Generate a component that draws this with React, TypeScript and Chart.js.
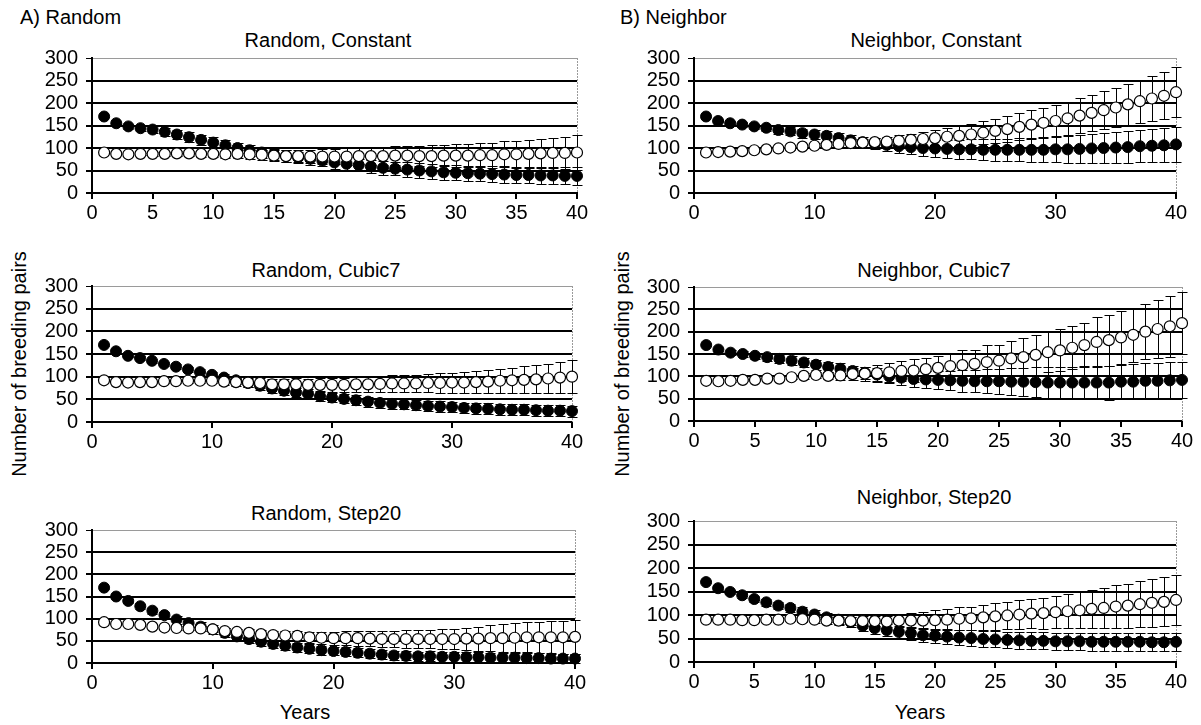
import React, { useEffect, useRef } from 'react';
import { Chart, registerables } from 'chart.js';

Chart.register(...registerables);

const FONT = '"Liberation Sans", Arial, Helvetica, sans-serif';
const FONT_SIZE = 20;

// ---------- data ----------
const YEARS = [1, 2, 3, 4, 5, 6, 7, 8, 9, 10, 11, 12, 13, 14, 15, 16, 17, 18, 19, 20,
  21, 22, 23, 24, 25, 26, 27, 28, 29, 30, 31, 32, 33, 34, 35, 36, 37, 38, 39, 40];
const Y_TICKS = [0, 50, 100, 150, 200, 250, 300];
const X_TICKS_5 = [0, 5, 10, 15, 20, 25, 30, 35, 40];
const X_TICKS_10 = [0, 10, 20, 30, 40];

// Random, Constant
const RAND_CONST_FILLED = [170, 155, 148, 144, 141, 136, 130, 124, 118, 112, 106, 100, 95, 90, 86, 82, 79, 76, 72, 68,
  65, 62, 59, 56, 54, 52, 50, 48, 46, 45, 44, 43, 42, 41, 40, 40, 39, 39, 38, 38];
const RAND_CONST_FILLED_SD = [2, 3, 5, 6, 7, 9, 10, 11, 11, 12, 12, 12, 12, 12, 12, 13, 13, 13, 13, 14,
  14, 14, 15, 15, 15, 16, 16, 16, 16, 17, 17, 17, 17, 18, 18, 18, 19, 19, 19, 20];
const RAND_CONST_OPEN = [90, 87, 86, 87, 87, 87, 88, 88, 87, 87, 86, 87, 86, 85, 83, 82, 82, 81, 81, 81,
  81, 82, 82, 82, 83, 83, 82, 82, 83, 83, 83, 84, 84, 86, 86, 87, 88, 89, 89, 90];
const RAND_CONST_OPEN_SD = [2, 2, 3, 3, 4, 4, 5, 5, 6, 7, 8, 9, 10, 11, 12, 13, 14, 15, 16, 17,
  18, 18, 19, 20, 21, 22, 23, 24, 24, 25, 26, 27, 28, 29, 30, 31, 33, 34, 36, 38];

// Neighbor, Constant
const NEIGH_CONST_FILLED = [170, 160, 155, 152, 148, 145, 140, 137, 133, 130, 127, 122, 117, 113, 110, 107, 104, 102, 100, 99,
  98, 97, 97, 96, 96, 96, 96, 96, 96, 97, 97, 98, 99, 100, 101, 102, 104, 105, 106, 108];
const NEIGH_CONST_FILLED_SD = [2, 3, 4, 5, 6, 7, 8, 9, 10, 10, 11, 11, 12, 12, 13, 14, 15, 16, 18, 19,
  20, 21, 22, 23, 24, 25, 26, 27, 28, 29, 30, 31, 32, 33, 34, 35, 36, 37, 38, 39];
const NEIGH_CONST_OPEN = [90, 91, 92, 93, 95, 97, 99, 101, 103, 105, 107, 109, 111, 112, 113, 114, 116, 118, 120, 122,
  125, 127, 130, 134, 138, 142, 147, 152, 156, 160, 166, 172, 178, 184, 190, 197, 204, 210, 216, 224];
const NEIGH_CONST_OPEN_SD = [2, 2, 3, 3, 4, 4, 5, 5, 6, 6, 7, 8, 9, 9, 10, 11, 12, 14, 16, 18,
  20, 22, 24, 26, 27, 29, 30, 32, 33, 35, 37, 39, 40, 42, 44, 46, 48, 50, 52, 56];

// Random, Cubic7
const RAND_CUBIC_FILLED = [170, 156, 146, 141, 135, 128, 122, 116, 110, 104, 98, 92, 86, 80, 74, 69, 65, 62, 57, 54,
  51, 48, 45, 42, 40, 39, 37, 35, 34, 33, 31, 30, 29, 28, 27, 27, 26, 25, 25, 24];
const RAND_CUBIC_FILLED_SD = [2, 3, 3, 4, 4, 5, 5, 6, 6, 7, 7, 8, 8, 9, 9, 9, 10, 10, 10, 10,
  10, 11, 11, 11, 11, 11, 11, 11, 12, 12, 12, 12, 12, 12, 12, 12, 12, 12, 12, 12];
const RAND_CUBIC_OPEN = [92, 88, 87, 88, 88, 90, 90, 91, 91, 91, 89, 88, 87, 86, 83, 83, 83, 82, 82, 82,
  82, 83, 83, 84, 85, 85, 85, 86, 86, 87, 87, 88, 89, 91, 92, 93, 94, 96, 98, 100];
const RAND_CUBIC_OPEN_SD = [2, 2, 2, 3, 3, 3, 4, 4, 5, 6, 7, 8, 9, 10, 11, 12, 13, 13, 14, 15,
  15, 16, 16, 17, 18, 18, 19, 20, 21, 22, 23, 24, 25, 27, 28, 30, 31, 33, 35, 36];

// Neighbor, Cubic7
const NEIGH_CUBIC_FILLED = [170, 160, 153, 150, 146, 143, 139, 135, 131, 126, 121, 117, 112, 108, 104, 100, 97, 94, 93, 92,
  91, 90, 89, 89, 89, 88, 88, 87, 86, 86, 86, 86, 86, 86, 88, 88, 90, 90, 91, 92];
const NEIGH_CUBIC_FILLED_SD = [2, 3, 5, 6, 7, 8, 9, 10, 10, 11, 11, 12, 12, 13, 14, 15, 16, 18, 19, 21,
  22, 24, 25, 27, 28, 30, 31, 33, 34, 35, 36, 37, 37, 38, 38, 39, 39, 40, 40, 40];
const NEIGH_CUBIC_OPEN = [90, 89, 90, 92, 92, 95, 95, 98, 101, 103, 101, 102, 105, 106, 107, 109, 112, 113, 116, 119,
  123, 125, 128, 132, 135, 140, 143, 148, 154, 158, 164, 170, 177, 181, 187, 193, 200, 206, 212, 219];
const NEIGH_CUBIC_OPEN_SD = [2, 2, 2, 3, 3, 4, 4, 5, 6, 7, 8, 10, 13, 16, 19, 21, 23, 25, 24, 26,
  29, 33, 30, 38, 35, 40, 42, 44, 45, 47, 48, 50, 56, 57, 60, 60, 62, 64, 68, 69];

// Random, Step20
const RAND_STEP_FILLED = [170, 150, 140, 128, 118, 108, 98, 90, 82, 76, 68, 60, 54, 48, 43, 39, 35, 32, 29, 27,
  25, 23, 21, 19, 17, 16, 15, 15, 14, 14, 13, 13, 12, 12, 12, 11, 11, 10, 10, 10];
const RAND_STEP_FILLED_SD = [2, 3, 5, 6, 7, 8, 9, 9, 10, 10, 10, 10, 10, 10, 10, 10, 10, 10, 10, 10,
  10, 10, 10, 10, 10, 10, 10, 11, 11, 11, 11, 11, 11, 11, 11, 11, 11, 11, 11, 11];
const RAND_STEP_OPEN = [92, 88, 88, 86, 82, 80, 79, 78, 78, 76, 72, 70, 68, 65, 63, 62, 61, 58, 57, 56,
  56, 56, 55, 54, 54, 54, 54, 54, 54, 54, 55, 55, 56, 56, 57, 58, 58, 58, 58, 59];
const RAND_STEP_OPEN_SD = [2, 2, 2, 3, 3, 3, 4, 4, 5, 5, 6, 7, 8, 9, 10, 11, 12, 13, 14, 15,
  16, 17, 17, 18, 19, 20, 20, 21, 22, 23, 25, 27, 29, 31, 33, 34, 35, 36, 37, 39];

// Neighbor, Step20
const NEIGH_STEP_FILLED = [170, 157, 149, 142, 134, 127, 120, 115, 107, 101, 95, 90, 85, 77, 72, 68, 64, 61, 57, 56,
  54, 52, 51, 49, 48, 47, 46, 45, 45, 44, 44, 44, 43, 43, 43, 43, 43, 42, 42, 43];
const NEIGH_STEP_FILLED_SD = [2, 3, 4, 5, 6, 7, 8, 9, 9, 10, 10, 11, 11, 11, 12, 12, 13, 14, 15, 15,
  16, 16, 17, 17, 17, 17, 18, 18, 18, 18, 18, 18, 19, 19, 19, 19, 19, 19, 19, 19];
const NEIGH_STEP_OPEN = [90, 90, 90, 89, 89, 90, 90, 92, 91, 90, 88, 88, 87, 87, 87, 86, 88, 88, 88, 89,
  90, 92, 93, 95, 97, 99, 101, 103, 104, 106, 108, 110, 113, 115, 118, 120, 123, 126, 128, 132];
const NEIGH_STEP_OPEN_SD = [2, 2, 2, 3, 3, 4, 4, 5, 5, 6, 7, 8, 9, 10, 11, 12, 14, 16, 18, 21,
  22, 24, 25, 27, 28, 29, 30, 31, 33, 34, 36, 38, 40, 42, 45, 47, 49, 51, 52, 53];

// ---------- layout ----------
const YW = 70; // y axis box width
const XH = 36; // x axis box height
const PT = 16; // top padding
const PR = 26; // right padding
const CAP = 5;
const RADIUS = 5.5;

type Panel = {
  title: string;
  L: number; R: number; T: number; B: number;
  xTicks: number[];
  filled: number[]; filledSd: number[];
  open: number[]; openSd: number[];
  tx: number; ty: number;
};

const PANELS: Panel[] = [
  { title: 'Random, Constant', L: 92, R: 577, T: 58, B: 193, xTicks: X_TICKS_5,
    filled: RAND_CONST_FILLED, filledSd: RAND_CONST_FILLED_SD, open: RAND_CONST_OPEN, openSd: RAND_CONST_OPEN_SD, tx: 328, ty: 40 },
  { title: 'Neighbor, Constant', L: 694, R: 1176, T: 58, B: 193, xTicks: X_TICKS_10,
    filled: NEIGH_CONST_FILLED, filledSd: NEIGH_CONST_FILLED_SD, open: NEIGH_CONST_OPEN, openSd: NEIGH_CONST_OPEN_SD, tx: 936, ty: 40 },
  { title: 'Random, Cubic7', L: 92, R: 572, T: 286, B: 422, xTicks: X_TICKS_10,
    filled: RAND_CUBIC_FILLED, filledSd: RAND_CUBIC_FILLED_SD, open: RAND_CUBIC_OPEN, openSd: RAND_CUBIC_OPEN_SD, tx: 326, ty: 270 },
  { title: 'Neighbor, Cubic7', L: 694, R: 1182, T: 287, B: 421, xTicks: X_TICKS_5,
    filled: NEIGH_CUBIC_FILLED, filledSd: NEIGH_CUBIC_FILLED_SD, open: NEIGH_CUBIC_OPEN, openSd: NEIGH_CUBIC_OPEN_SD, tx: 934, ty: 270 },
  { title: 'Random, Step20', L: 92, R: 575, T: 530, B: 663, xTicks: X_TICKS_10,
    filled: RAND_STEP_FILLED, filledSd: RAND_STEP_FILLED_SD, open: RAND_STEP_OPEN, openSd: RAND_STEP_OPEN_SD, tx: 326, ty: 513 },
  { title: 'Neighbor, Step20', L: 694, R: 1176, T: 521, B: 662, xTicks: X_TICKS_5,
    filled: NEIGH_STEP_FILLED, filledSd: NEIGH_STEP_FILLED_SD, open: NEIGH_STEP_OPEN, openSd: NEIGH_STEP_OPEN_SD, tx: 934, ty: 497 },
];

const errorBarPlugin = {
  id: 'errorBars',
  beforeDatasetsDraw(chart: any) {
    const { ctx } = chart;
    const xs = chart.scales.x;
    const ys = chart.scales.y;
    ctx.save();
    ctx.strokeStyle = '#000';
    ctx.lineWidth = 1;
    chart.data.datasets.forEach((ds: any) => {
      const errs: number[] | undefined = ds.errors;
      if (!errs) return;
      ds.data.forEach((p: any, i: number) => {
        const e = errs[i];
        const x = Math.round(xs.getPixelForValue(p.x)) + 0.5;
        const y1 = Math.round(ys.getPixelForValue(p.y + e)) + 0.5;
        const y2 = Math.round(ys.getPixelForValue(p.y - e)) + 0.5;
        ctx.beginPath();
        ctx.moveTo(x, y1);
        ctx.lineTo(x, y2);
        ctx.moveTo(x - CAP, y1);
        ctx.lineTo(x + CAP, y1);
        ctx.moveTo(x - CAP, y2);
        ctx.lineTo(x + CAP, y2);
        ctx.stroke();
      });
    });
    ctx.restore();
  },
};

const framePlugin = {
  id: 'frame',
  beforeDatasetsDraw(chart: any) {
    const { ctx, chartArea } = chart;
    ctx.save();
    ctx.strokeStyle = '#9a9a9a';
    ctx.lineWidth = 1;
    ctx.setLineDash([2, 1]);
    const x = Math.round(chartArea.right) + 0.5;
    ctx.beginPath();
    ctx.moveTo(x, chartArea.top);
    ctx.lineTo(x, chartArea.bottom);
    ctx.stroke();
    ctx.restore();
  },
};

function PanelChart({ p }: { p: Panel }) {
  const ref = useRef<HTMLCanvasElement>(null);
  const W = p.R - p.L + YW + PR;
  const H = p.B - p.T + PT + XH;

  useEffect(() => {
    if (!ref.current) return;
    const chart = new Chart(ref.current, {
      type: 'scatter',
      data: {
        datasets: [
          {
            label: 'open',
            data: YEARS.map((x, i) => ({ x, y: p.open[i] })),
            errors: p.openSd,
            pointRadius: RADIUS,
            pointBackgroundColor: '#fff',
            pointBorderColor: '#000',
            pointBorderWidth: 1.2,
            showLine: false,
            clip: false,
            order: 1,
          } as any,
          {
            label: 'filled',
            data: YEARS.map((x, i) => ({ x, y: p.filled[i] })),
            errors: p.filledSd,
            pointRadius: RADIUS,
            pointBackgroundColor: '#000',
            pointBorderColor: '#000',
            pointBorderWidth: 1,
            showLine: false,
            clip: false,
            order: 2,
          } as any,
        ],
      },
      options: {
        animation: false,
        responsive: false,
        devicePixelRatio: 1,
        layout: { padding: { top: PT, right: PR, left: 0, bottom: 0 } },
        plugins: {
          legend: { display: false },
          tooltip: { enabled: false },
          title: { display: false },
        },
        scales: {
          x: {
            type: 'linear',
            min: 0,
            max: 40,
            afterFit(scale: any) {
              scale.height = XH;
              scale.paddingLeft = 0;
              scale.paddingRight = 0;
            },
            afterBuildTicks(scale: any) {
              scale.ticks = p.xTicks.map((v) => ({ value: v }));
            },
            ticks: {
              color: '#000',
              font: { family: FONT, size: FONT_SIZE },
              padding: 2,
              maxRotation: 0,
              autoSkip: false,
            },
            grid: {
              drawOnChartArea: false,
              drawTicks: true,
              tickLength: 6,
              tickColor: '#000',
              lineWidth: 2,
            },
            border: { display: true, color: '#000', width: 2 },
          },
          y: {
            type: 'linear',
            min: 0,
            max: 300,
            afterFit(scale: any) {
              scale.width = YW;
              scale.paddingTop = 0;
              scale.paddingBottom = 0;
            },
            afterBuildTicks(scale: any) {
              scale.ticks = Y_TICKS.map((v) => ({ value: v }));
            },
            ticks: {
              color: '#000',
              font: { family: FONT, size: FONT_SIZE },
              padding: 8,
              autoSkip: false,
            },
            grid: {
              color: (c: any) => (c.tick && c.tick.value === 300 ? '#9a9a9a' : '#000'),
              lineWidth: (c: any) => (c.tick && c.tick.value === 300 ? 1 : 2),
              tickColor: '#000',
              tickLength: 6,
              drawTicks: true,
            },
            border: { display: true, color: '#000', width: 2 },
          },
        },
      } as any,
      plugins: [framePlugin, errorBarPlugin],
    });
    return () => chart.destroy();
  }, []);

  return (
    <canvas
      ref={ref}
      width={W}
      height={H}
      style={{ position: 'absolute', left: p.L - YW, top: p.T - PT, width: W, height: H }}
    />
  );
}

const textBase: React.CSSProperties = {
  position: 'absolute',
  fontFamily: FONT,
  fontSize: FONT_SIZE,
  color: '#000',
  whiteSpace: 'nowrap',
  lineHeight: 1,
};

function Label({ x, y, text, anchor = 'center' }: { x: number; y: number; text: string; anchor?: 'center' | 'left' }) {
  const tx = anchor === 'center' ? '-50%' : '0';
  return (
    <div style={{ ...textBase, left: x, top: y, transform: `translate(${tx}, -50%)` }}>
      {text}
    </div>
  );
}

function RotLabel({ x, y, text }: { x: number; y: number; text: string }) {
  return (
    <div style={{ ...textBase, left: x, top: y, transform: 'translate(-50%, -50%) rotate(-90deg)' }}>
      {text}
    </div>
  );
}

export default function App() {
  return (
    <div style={{ position: 'absolute', left: 0, top: 0, width: 1201, height: 725, background: '#fff', overflow: 'hidden' }}>
      <Label x={20} y={17} text="A) Random" anchor="left" />
      <Label x={620} y={17} text="B) Neighbor" anchor="left" />
      {PANELS.map((p) => (
        <Label key={p.title} x={p.tx} y={p.ty} text={p.title} />
      ))}
      <RotLabel x={19} y={364} text="Number of breeding pairs" />
      <RotLabel x={622} y={364} text="Number of breeding pairs" />
      <Label x={305} y={712} text="Years" />
      <Label x={920} y={712} text="Years" />
      {PANELS.map((p) => (
        <PanelChart key={p.title + '-c'} p={p} />
      ))}
    </div>
  );
}
